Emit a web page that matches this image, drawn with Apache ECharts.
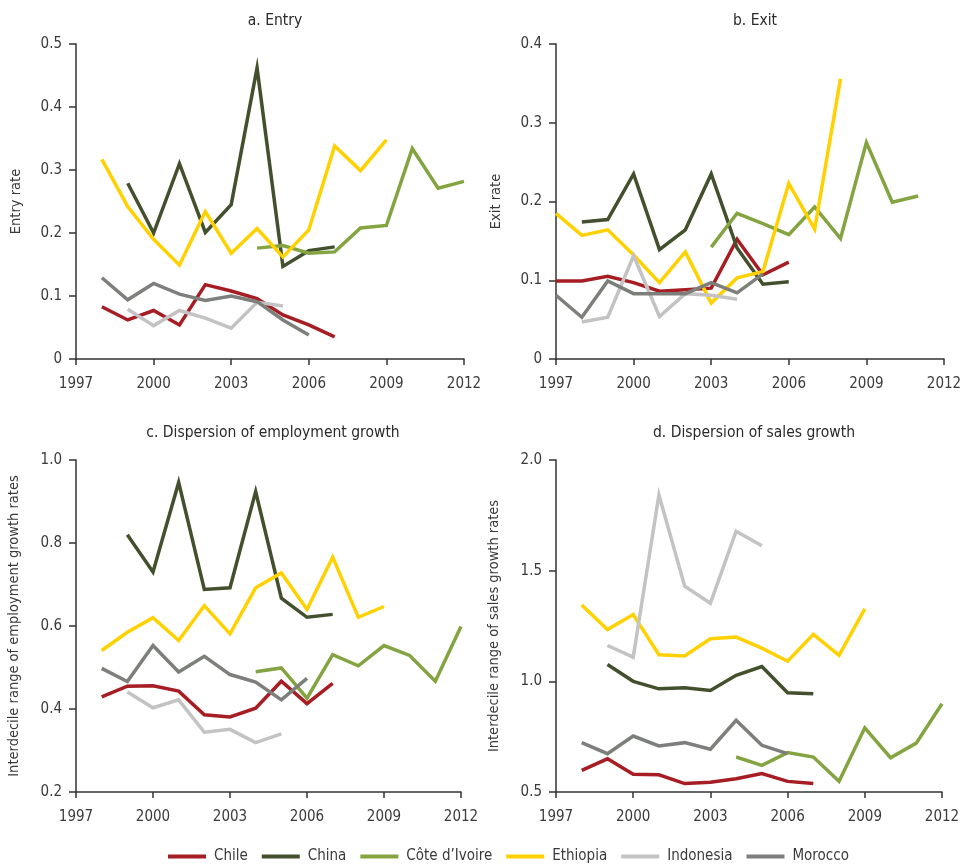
<!DOCTYPE html>
<html>
<head>
<meta charset="utf-8">
<script src="https://cdn.jsdelivr.net/npm/echarts@6/dist/echarts.min.js"></script>
<style>
html,body{margin:0;padding:0;background:#fff;}
#chart{width:965px;height:866px;}
</style>
</head>
<body>
<div id="chart"></div>
<script>
var years = [1997,1998,1999,2000,2001,2002,2003,2004,2005,2006,2007,2008,2009,2010,2011,2012];
var countries = ['Chile','China','Côte d\u2019Ivoire','Ethiopia','Indonesia','Morocco'];
var colors = ['#a61d24','#43502d','#84a441','#ffd100','#c3c3c3','#7d7f7a'];
var panelTitles = ['a. Entry','b. Exit','c. Dispersion of employment growth','d. Dispersion of sales growth'];
var axisNames = ['Entry rate','Exit rate','Interdecile range of employment growth rates','Interdecile range of sales growth rates'];

// a. Entry
var entryChile = [null,0.083,0.062,0.077,0.054,0.118,0.108,0.096,0.070,0.054,0.035,null,null,null,null,null];
var entryChina = [null,null,0.279,0.200,0.310,0.201,0.245,0.462,0.147,0.172,0.178,null,null,null,null,null];
var entryCIV = [null,null,null,null,null,null,null,0.176,0.180,0.168,0.170,0.208,0.212,0.334,0.271,0.282];
var entryEthiopia = [null,0.317,0.242,0.190,0.149,0.234,0.168,0.207,0.162,0.205,0.338,0.299,0.348,null,null,null];
var entryIndonesia = [null,null,0.079,0.053,0.077,0.065,0.049,0.090,0.084,null,null,null,null,null,null,null];
var entryMorocco = [null,0.129,0.094,0.120,0.103,0.093,0.100,0.091,0.062,0.038,null,null,null,null,null,null];

// b. Exit
var exitChile = [0.099,0.099,0.105,0.097,0.086,0.088,0.090,0.152,0.107,0.123,null,null,null,null,null,null];
var exitChina = [null,0.174,0.177,0.235,0.139,0.164,0.235,0.141,0.095,0.098,null,null,null,null,null,null];
var exitCIV = [null,null,null,null,null,null,0.142,0.185,0.172,0.158,0.193,0.153,0.275,0.199,0.207,null];
var exitEthiopia = [0.185,0.157,0.164,0.132,0.097,0.136,0.071,0.103,0.111,0.223,0.165,0.356,null,null,null,null];
var exitIndonesia = [null,0.047,0.053,0.131,0.054,0.083,0.081,0.076,null,null,null,null,null,null,null,null];
var exitMorocco = [0.081,0.053,0.099,0.083,0.083,0.083,0.097,0.084,0.108,null,null,null,null,null,null,null];

// c. Dispersion of employment growth
var empChile = [null,0.429,0.455,0.456,0.443,0.386,0.381,0.402,0.467,0.413,0.462,null,null,null,null,null];
var empChina = [null,null,0.820,0.730,0.946,0.688,0.692,0.924,0.667,0.621,0.628,null,null,null,null,null];
var empCIV = [null,null,null,null,null,null,null,0.490,0.499,0.426,0.531,0.504,0.553,0.529,0.467,0.599];
var empEthiopia = [null,0.541,0.585,0.620,0.565,0.649,0.581,0.692,0.728,0.640,0.766,0.621,0.647,null,null,null];
var empIndonesia = [null,null,0.441,0.403,0.422,0.344,0.351,0.319,0.340,null,null,null,null,null,null,null];
var empMorocco = [null,0.498,0.466,0.553,0.489,0.527,0.483,0.465,0.422,0.474,null,null,null,null,null,null];

// d. Dispersion of sales growth
var salesChile = [null,0.598,0.650,0.580,0.578,0.538,0.544,0.560,0.583,0.548,0.538,null,null,null,null,null];
var salesChina = [null,null,1.076,1.000,0.966,0.971,0.959,1.027,1.067,0.948,0.944,null,null,null,null,null];
var salesCIV = [null,null,null,null,null,null,null,0.658,0.620,0.678,0.658,0.548,0.790,0.655,0.721,0.899];
var salesEthiopia = [null,1.345,1.234,1.302,1.120,1.115,1.192,1.200,1.150,1.091,1.212,1.117,1.327,null,null,null];
var salesIndonesia = [null,null,1.162,1.109,1.842,1.430,1.353,1.678,1.613,null,null,null,null,null,null,null];
var salesMorocco = [null,0.723,0.673,0.753,0.708,0.723,0.693,0.824,0.711,0.673,null,null,null,null,null,null];

var panelData = [
  [entryChile,entryChina,entryCIV,entryEthiopia,entryIndonesia,entryMorocco],
  [exitChile,exitChina,exitCIV,exitEthiopia,exitIndonesia,exitMorocco],
  [empChile,empChina,empCIV,empEthiopia,empIndonesia,empMorocco],
  [salesChile,salesChina,salesCIV,salesEthiopia,salesIndonesia,salesMorocco]
];
var yRanges = [[0,0.5,0.1],[0,0.4,0.1],[0.2,1.0,0.2],[0.5,2.0,0.5]];

var FONT = '"DejaVu Sans Condensed","Liberation Sans Narrow","Roboto",sans-serif';
var TXT = '#3a3a3a';

var grids = [
  {left:76, right:501, top:44, bottom:507},
  {left:556, right:21, top:44, bottom:507},
  {left:76, right:504, top:460, bottom:74},
  {left:556, right:23, top:460, bottom:74}
];
var titleCenters = [[270,8],[750,8],[268,420],[749,420]];
var nameGaps = [52,52,54,54];

var option = {
  backgroundColor:'#fff',
  animation:false,
  textStyle:{fontFamily:FONT},
  title: panelTitles.map(function(t,i){
    return {text:t, left:titleCenters[i][0], top:titleCenters[i][1], textAlign:'center',
      textStyle:{fontFamily:FONT, fontSize:15.5, fontWeight:'normal', color:'#2a2a2a'}};
  }),
  legend:{
    data:countries, left:163, top:844, itemWidth:38, itemHeight:4, itemGap:14, icon:'rect',
    textStyle:{fontFamily:FONT, fontSize:15, color:TXT, padding:[0,0,0,3]}
  },
  grid: grids,
  xAxis: grids.map(function(g,i){
    return {type:'value', gridIndex:i, min:1997, max:2012, interval:3,
      axisLine:{lineStyle:{color:'#333', width:1.5}},
      axisTick:{show:true, length:6, lineStyle:{color:'#333', width:1.5}},
      axisLabel:{fontFamily:FONT, fontSize:15, color:TXT, margin:18, formatter:function(v){return String(v);}},
      splitLine:{show:false}};
  }),
  yAxis: grids.map(function(g,i){
    var r = yRanges[i];
    return {type:'value', gridIndex:i, min:r[0], max:r[1], interval:r[2],
      name:axisNames[i], nameLocation:'middle', nameRotate:90, nameGap:nameGaps[i],
      nameTextStyle:{fontFamily:FONT, fontSize:14.5, color:TXT},
      axisLine:{show:true, lineStyle:{color:'#333', width:1.5}},
      axisTick:{show:true, length:7, lineStyle:{color:'#333', width:1.5}},
      axisLabel:{fontFamily:FONT, fontSize:15, color:TXT, margin:14,
        formatter: i<2 ? function(v){return v===0?'0':String(+v.toFixed(2));} : function(v){return v.toFixed(1);}},
      splitLine:{show:false}};
  }),
  series: []
};

panelData.forEach(function(arrs,p){
  arrs.forEach(function(arr,c){
    option.series.push({
      name:countries[c], type:'line', xAxisIndex:p, yAxisIndex:p,
      data: years.map(function(y,k){return [y, arr[k]];}),
      showSymbol:false, symbol:'none', connectNulls:false,
      lineStyle:{color:colors[c], width:3.5, cap:'butt', join:'miter'},
      itemStyle:{color:colors[c]}
    });
  });
});

var chart = echarts.init(document.getElementById('chart'), null, {renderer:'canvas'});
chart.setOption(option);
</script>
</body>
</html>
